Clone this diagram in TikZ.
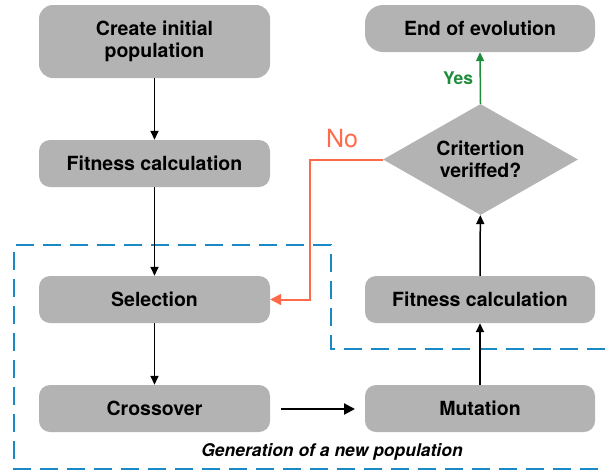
\documentclass[tikz,border=0pt]{standalone}
\usepackage{fontspec}
\setmainfont{TeX Gyre Heros}
\usetikzlibrary{shapes.geometric,arrows.meta}
\definecolor{boxgray}{HTML}{B3B3B3}
\definecolor{dashblue}{HTML}{1A8AC6}
\definecolor{noorange}{HTML}{FF6B4A}
\definecolor{yesgreen}{HTML}{1E8C3C}
\tikzset{
  stepbox/.style={fill=boxgray, rounded corners=11pt, minimum width=231pt, minimum height=47pt,
    inner sep=0pt, align=center, font=\fontsize{19.5}{22}\selectfont\bfseries},
  decbox/.style={diamond, fill=boxgray, minimum width=195pt, minimum height=111pt, aspect=1.757,
    inner sep=0pt, align=center, font=\fontsize{19.5}{22}\selectfont\bfseries},
  conn/.style={line width=1.5pt, -{Triangle[length=9pt,width=8pt]}},
  bigconn/.style={line width=2.2pt, -{Triangle[length=11pt,width=11pt]}},
  noconn/.style={noorange, line width=2pt, -{Triangle[length=11pt,width=11pt]}},
  yesconn/.style={yesgreen, line width=1.5pt, -{Triangle[length=9pt,width=8pt]}},
  grpline/.style={dashblue, line width=2.2pt, dash pattern=on 18pt off 9pt},
}
\begin{document}
\begin{tikzpicture}[x=1pt,y=-1pt]
\useasboundingbox (0,0) rectangle (605,472);
% group outline
\draw[grpline] (605,349) -- (331,349) -- (331,245) -- (14,245) -- (14,469) -- (605,469);
% nodes
\node[stepbox, minimum height=73pt, rounded corners=14pt] (create) at (154.5,41.5) {Create initial\\population};
\node[stepbox] (fit1) at (154.5,163.5) {Fitness calculation};
\node[stepbox] (sel) at (154.5,299.5) {Selection};
\node[stepbox] (cross) at (154.5,408.5) {Crossover};
\node[stepbox, minimum width=230pt] (mut) at (480,408.5) {Mutation};
\node[stepbox, minimum width=230pt] (fit2) at (480,299.5) {Fitness calculation};
\node[stepbox, minimum width=230pt, rounded corners=18pt] (end) at (480,28.5) {End of evolution};
\node[decbox] (crit) at (480.5,159.5) {Critertion\\veriffed?};
\node[font=\fontsize{17.5}{20}\selectfont\bfseries\itshape] (gen) at (332,452) {Generation of a new population};
% connectors
\draw[conn] (create) -- (fit1);
\draw[conn] (fit1) -- (sel);
\draw[conn] (sel) -- (cross);
\coordinate (cx) at (281,409);
\coordinate (mx) at (355,409);
\draw[bigconn] (cx) -- (mx);
\draw[conn] (mut) -- (fit2);
\draw[conn] (fit2) -- (crit);
\draw[yesconn] (crit.north) -- node[left=3pt, yesgreen, font=\fontsize{17.5}{20}\selectfont\bfseries] (yes) {Yes} (end.south);
\coordinate (nocorner) at (310,159.5);
\draw[noconn] (crit.west) -- (nocorner) |- (sel.east);
\node[noorange, font=\fontsize{25}{28}\selectfont] (no) at (342,139) {No};
\end{tikzpicture}
\end{document}
